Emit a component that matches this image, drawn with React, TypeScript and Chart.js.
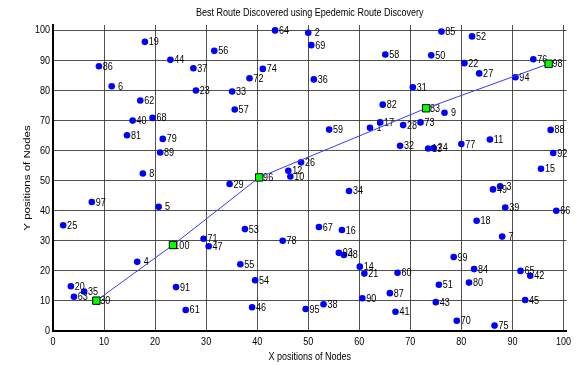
import React, { useEffect, useRef } from "react";
import { Chart, registerables } from "chart.js";

Chart.register(...registerables);

// Node identifiers and their coordinates in the 100 x 100 field
const nodeIds = [
  1, 2, 3, 4, 5, 6, 7, 8, 9, 10, 11, 12, 13, 14, 15, 16, 17, 18, 19, 20,
  21, 22, 23, 24, 25, 26, 27, 28, 29, 30, 31, 32, 33, 34, 35, 36, 37, 38, 39, 40,
  41, 42, 43, 44, 45, 46, 47, 48, 49, 50, 51, 52, 53, 54, 55, 56, 57, 58, 59, 60,
  61, 62, 63, 64, 65, 66, 67, 68, 69, 70, 71, 72, 73, 74, 75, 76, 77, 78, 79, 80,
  81, 82, 83, 84, 85, 86, 87, 88, 89, 90, 91, 92, 93, 94, 95, 96, 97, 98, 99, 100,
];

const nodeX = [
  62.1, 50.0, 87.6, 16.5, 20.7, 11.5, 88.0, 17.6, 76.7, 46.5,
  85.6, 46.1, 73.5, 60.1, 95.6, 56.6, 64.1, 83.0, 18.0, 3.5,
  61.0, 80.6, 28.0, 74.6, 2.0, 48.6, 83.5, 68.6, 34.6, 8.5,
  70.5, 68.0, 35.1, 58.0, 6.1, 51.1, 27.5, 53.0, 88.6, 15.6,
  67.1, 93.5, 75.0, 23.0, 92.5, 39.0, 30.5, 57.0, 86.2, 74.1,
  75.6, 82.1, 37.6, 39.6, 36.7, 31.6, 35.6, 65.1, 54.1, 67.5,
  26.0, 17.1, 4.1, 43.5, 91.6, 98.6, 52.1, 19.5, 50.6, 79.1,
  29.5, 38.5, 72.0, 41.1, 86.5, 94.1, 80.0, 45.0, 21.5, 81.5,
  14.5, 64.6, 73.1, 82.5, 76.1, 9.0, 66.0, 97.5, 21.0, 60.6,
  24.1, 98.0, 56.0, 90.6, 49.5, 40.4, 7.6, 97.1, 78.5, 23.5,
];

const nodeY = [
  67.6, 99.2, 48.1, 23.0, 41.3, 81.4, 31.4, 52.4, 72.6, 51.4,
  63.7, 53.3, 60.7, 21.4, 54.0, 33.6, 69.4, 36.7, 96.2, 14.9,
  19.1, 89.1, 80.0, 60.9, 35.2, 56.1, 85.7, 68.5, 48.9, 10.1,
  81.1, 61.6, 79.7, 46.6, 13.1, 83.7, 87.4, 8.9, 41.1, 70.0,
  6.4, 18.4, 9.6, 90.2, 10.3, 7.9, 28.2, 25.3, 47.1, 91.7,
  15.4, 98.0, 33.9, 16.9, 22.2, 93.2, 73.7, 92.0, 67.0, 19.4,
  7.0, 76.7, 11.4, 100.0, 20.0, 40.0, 34.6, 70.9, 95.1, 3.4,
  30.7, 84.1, 69.4, 87.2, 1.8, 90.4, 62.2, 30.0, 63.9, 16.1,
  65.1, 75.3, 74.1, 20.6, 99.6, 88.1, 12.6, 66.9, 59.4, 10.9,
  14.6, 59.2, 26.0, 84.4, 7.3, 51.1, 42.9, 88.9, 24.6, 28.6,
];

// Hops of the best route found, source to destination
const routeIds = [30, 100, 96, 83, 98];

// Axis tick values and captions
const xTickValues = [0, 10, 20, 30, 40, 50, 60, 70, 80, 90, 100];
const yTickValues = [0, 10, 20, 30, 40, 50, 60, 70, 80, 90, 100];
const chartTitle = "Best Route Discovered using Epedemic Route Discovery";
const xAxisTitle = "X positions of Nodes";
const yAxisTitle = "Y positions of Nodes";

const FONT_FAMILY = '"Liberation Sans", Arial, Helvetica, sans-serif';
// text is set in a condensed face: glyphs squeezed horizontally
const SQUEEZE = 0.82;

function squeezedText(
  ctx: CanvasRenderingContext2D,
  text: string,
  x: number,
  y: number,
  align: CanvasTextAlign,
  size: number
) {
  ctx.save();
  ctx.translate(x, y);
  ctx.scale(SQUEEZE, 1);
  ctx.font = `${size}px ${FONT_FAMILY}`;
  ctx.fillStyle = "#000";
  ctx.textAlign = align;
  ctx.textBaseline = "middle";
  ctx.fillText(text, 0, 0);
  ctx.restore();
}

// node numbers are printed as fixed-width "%3d" strings just right of each dot
const nodeLabelPlugin = {
  id: "nodeLabels",
  afterDatasetDraw(chart: any, args: any) {
    if (args.index !== 0) return;
    const ctx = chart.ctx as CanvasRenderingContext2D;
    args.meta.data.forEach((pt: any, i: number) => {
      const label = String(nodeIds[i]).padStart(3, " ");
      squeezedText(ctx, label, pt.x + 1.4, pt.y + 0.5, "left", 11);
    });
  },
};

const axisTextPlugin = {
  id: "axisText",
  afterDraw(chart: any) {
    const ctx = chart.ctx as CanvasRenderingContext2D;
    const area = chart.chartArea;
    const xs = chart.scales.x;
    const ys = chart.scales.y;

    squeezedText(ctx, chartTitle, (area.left + area.right) / 2, 13, "center", 11);

    xTickValues.forEach((v) => {
      squeezedText(ctx, String(v), xs.getPixelForValue(v), area.bottom + 11, "center", 11);
    });
    yTickValues.forEach((v) => {
      squeezedText(ctx, String(v), area.left - 3, ys.getPixelForValue(v), "right", 11);
    });

    squeezedText(ctx, xAxisTitle, (area.left + area.right) / 2, 357, "center", 11);

    // vertical caption: squeezed across its height, not along its length
    ctx.save();
    ctx.translate(27.5, (area.top + area.bottom) / 2);
    ctx.scale(SQUEEZE, 1);
    ctx.rotate(-Math.PI / 2);
    ctx.font = `11.5px ${FONT_FAMILY}`;
    ctx.fillStyle = "#000";
    ctx.textAlign = "center";
    ctx.textBaseline = "middle";
    ctx.fillText(yAxisTitle, 0, 0);
    ctx.restore();
  },
};

export default function App() {
  const canvasRef = useRef<HTMLCanvasElement | null>(null);

  useEffect(() => {
    document.body.style.margin = "0";
    const canvas = canvasRef.current;
    if (!canvas) return;

    const nodePoints = nodeIds.map((_, i) => ({ x: nodeX[i], y: nodeY[i] }));
    const routePoints = routeIds.map((id) => {
      const i = nodeIds.indexOf(id);
      return { x: nodeX[i], y: nodeY[i] };
    });

    const gridStyle = {
      color: "rgba(50,50,50,0.85)",
      lineWidth: 1,
      drawTicks: false,
    };

    const chart = new Chart(canvas, {
      type: "scatter",
      data: {
        datasets: [
          {
            label: "Nodes",
            data: nodePoints,
            order: 2,
            pointStyle: "circle",
            pointRadius: 3.3,
            pointBackgroundColor: "#0000ff",
            pointBorderColor: "#0000ff",
            pointBorderWidth: 0,
            showLine: false,
          },
          {
            label: "Route",
            data: routePoints,
            order: 1,
            showLine: true,
            borderColor: "#3a3aff",
            borderWidth: 1,
            pointStyle: "rect",
            pointRadius: 5.2,
            pointBackgroundColor: "#00ff00",
            pointBorderColor: "#000",
            pointBorderWidth: 1,
          },
        ],
      },
      options: {
        responsive: false,
        animation: false,
        devicePixelRatio: 1,
        layout: { padding: { left: 0, right: 13.5, top: 25, bottom: 0 } },
        plugins: {
          legend: { display: false },
          tooltip: { enabled: false },
          title: { display: false },
        },
        scales: {
          x: {
            type: "linear",
            min: 0,
            max: 100.6,
            afterBuildTicks: (scale: any) => {
              scale.ticks = xTickValues.map((v) => ({ value: v }));
            },
            afterFit: (scale: any) => {
              scale.height = 34;
            },
            ticks: { display: false },
            grid: gridStyle,
            border: { display: true, color: "#000", width: 2 },
          },
          y: {
            type: "linear",
            min: 0,
            max: 101.8,
            afterBuildTicks: (scale: any) => {
              scale.ticks = yTickValues.map((v) => ({ value: v }));
            },
            afterFit: (scale: any) => {
              scale.width = 53;
            },
            ticks: { display: false },
            grid: gridStyle,
            border: { display: true, color: "#000", width: 2 },
          },
        },
      },
      plugins: [nodeLabelPlugin, axisTextPlugin],
    });

    return () => chart.destroy();
  }, []);

  return (
    <div style={{ position: "relative", width: 580, height: 365, background: "#fff" }}>
      <canvas ref={canvasRef} width={580} height={365} />
    </div>
  );
}
